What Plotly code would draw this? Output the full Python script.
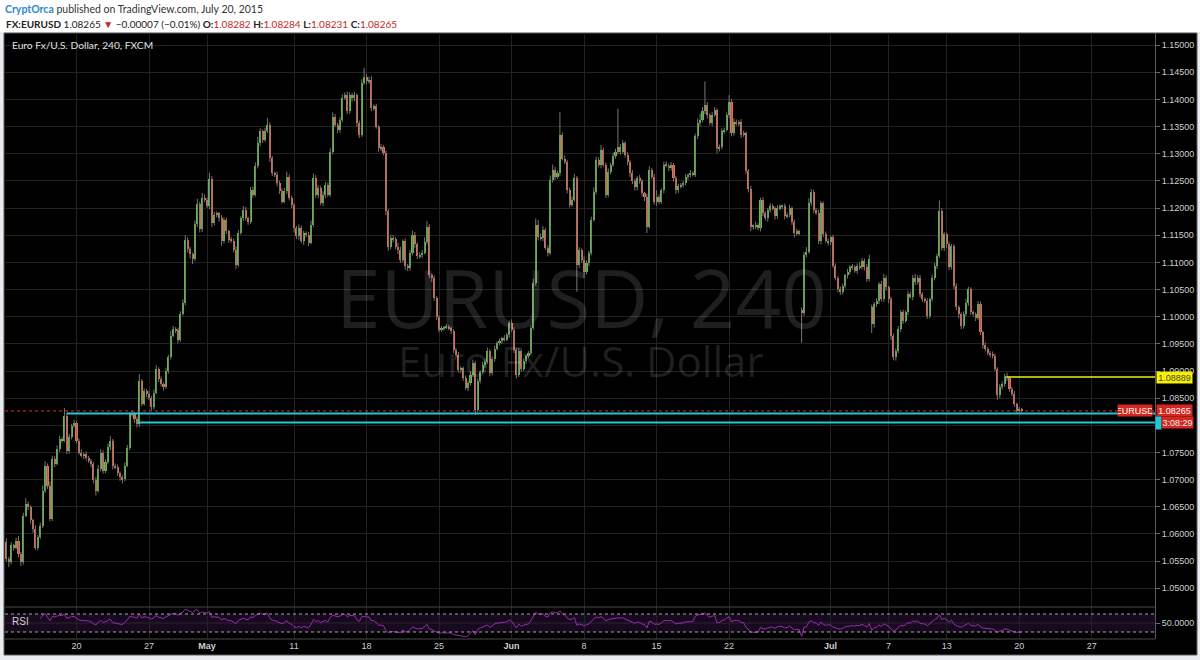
import plotly.graph_objects as go

# ---------------- data (EURUSD 4h candles) ----------------
FIRST_OPEN = 1.0585
closes = [
    1.0554, 1.0548, 1.0579, 1.0575, 1.0588, 1.0563, 1.0548, 1.0634, 1.0655, 1.0649,
    1.0625, 1.0610, 1.0575, 1.0594, 1.0615, 1.0680, 1.0726, 1.0689, 1.0628, 1.0738,
    1.0729, 1.0756, 1.0775, 1.0772, 1.0818, 1.0753, 1.0778, 1.0799, 1.0805, 1.0772,
    1.0750, 1.0744, 1.0747, 1.0740, 1.0735, 1.0729, 1.0700, 1.0680, 1.0720, 1.0750,
    1.0716, 1.0732, 1.0760, 1.0772, 1.0726, 1.0723, 1.0712, 1.0704, 1.0701, 1.0726,
    1.0759, 1.0821, 1.0820, 1.0812, 1.0802, 1.0882, 1.0839, 1.0863, 1.0858, 1.0851,
    1.0833, 1.0860, 1.0903, 1.0885, 1.0876, 1.0870, 1.0900, 1.0925, 1.0965, 1.0977,
    1.0975, 1.0958, 1.1005, 1.1026, 1.1142, 1.1124, 1.1115, 1.1106, 1.1170, 1.1207,
    1.1161, 1.1219, 1.1215, 1.1203, 1.1253, 1.1172, 1.1188, 1.1190, 1.1181, 1.1139,
    1.1178, 1.1157, 1.1142, 1.1140, 1.1123, 1.1096, 1.1154, 1.1181, 1.1197, 1.1181,
    1.1175, 1.1234, 1.1224, 1.1277, 1.1319, 1.1341, 1.1326, 1.1341, 1.1353, 1.1292,
    1.1264, 1.1261, 1.1246, 1.1231, 1.1212, 1.1231, 1.1258, 1.1218, 1.1206, 1.1163,
    1.1148, 1.1163, 1.1139, 1.1154, 1.1151, 1.1136, 1.1169, 1.1255, 1.1224, 1.1237,
    1.1209, 1.1224, 1.1243, 1.1224, 1.1304, 1.1368, 1.1353, 1.1344, 1.1362, 1.1402,
    1.1408, 1.1378, 1.1408, 1.1402, 1.1408, 1.1356, 1.1335, 1.1430, 1.1442, 1.1433,
    1.1436, 1.1384, 1.1387, 1.1350, 1.1310, 1.1312, 1.1301, 1.1194, 1.1129, 1.1145,
    1.1143, 1.1129, 1.1123, 1.1105, 1.1139, 1.1093, 1.1090, 1.1117, 1.1151, 1.1133,
    1.1111, 1.1114, 1.1118, 1.1138, 1.1166, 1.1077, 1.1071, 1.1034, 1.1000, 1.0976,
    1.0979, 1.0980, 1.0981, 1.0979, 1.0973, 1.0939, 1.0930, 1.0902, 1.0905, 1.0887,
    1.0869, 1.0878, 1.0893, 1.0914, 1.0829, 1.0881, 1.0899, 1.0911, 1.0917, 1.0936,
    1.0896, 1.0922, 1.0941, 1.0951, 1.0955, 1.0960, 1.0958, 1.0966, 1.0988, 1.0976,
    1.0939, 1.0893, 1.0936, 1.0904, 1.0918, 1.0927, 1.0933, 1.0979, 1.1062, 1.1169,
    1.1147, 1.1144, 1.1160, 1.1126, 1.1117, 1.1252, 1.1270, 1.1258, 1.1264, 1.1334,
    1.1291, 1.1285, 1.1233, 1.1206, 1.1215, 1.1255, 1.1095, 1.1123, 1.1105, 1.1083,
    1.1099, 1.1117, 1.1178, 1.1230, 1.1288, 1.1279, 1.1307, 1.1279, 1.1224, 1.1267,
    1.1279, 1.1295, 1.1304, 1.1313, 1.1304, 1.1319, 1.1298, 1.1285, 1.1264, 1.1249,
    1.1238, 1.1255, 1.1249, 1.1227, 1.1221, 1.1166, 1.1270, 1.1258, 1.1212, 1.1221,
    1.1212, 1.1233, 1.1280, 1.1278, 1.1273, 1.1280, 1.1255, 1.1233, 1.1240, 1.1243,
    1.1246, 1.1258, 1.1261, 1.1264, 1.1261, 1.1332, 1.1356, 1.1362, 1.1378, 1.1390,
    1.1371, 1.1356, 1.1371, 1.1381, 1.1310, 1.1313, 1.1341, 1.1344, 1.1371, 1.1396,
    1.1338, 1.1359, 1.1356, 1.1359, 1.1335, 1.1338, 1.1268, 1.1236, 1.1166, 1.1166,
    1.1169, 1.1163, 1.1215, 1.1190, 1.1181, 1.1197, 1.1203, 1.1200, 1.1185, 1.1200,
    1.1203, 1.1203, 1.1185, 1.1188, 1.1200, 1.1175, 1.1154, 1.1157, 1.1154, 1.1007,
    1.1114, 1.1120, 1.1209, 1.1230, 1.1197, 1.1191, 1.1139, 1.1209, 1.1152, 1.1140,
    1.1137, 1.1146, 1.1094, 1.1072, 1.1051, 1.1045, 1.1057, 1.1076, 1.1082, 1.1091,
    1.1092, 1.1085, 1.1094, 1.1091, 1.1103, 1.1091, 1.1069, 1.1106, 1.0986, 1.1023,
    1.1029, 1.1060, 1.1032, 1.1072, 1.1054, 1.1032, 1.0965, 1.0925, 1.0937, 1.0977,
    1.1008, 1.0993, 1.1008, 1.1042, 1.1036, 1.1072, 1.1063, 1.1072, 1.1042, 1.1032,
    1.1029, 1.1002, 1.1032, 1.1072, 1.1094, 1.1112, 1.1195, 1.1127, 1.1152, 1.1133,
    1.1091, 1.1130, 1.1057, 1.1017, 1.1005, 1.0983, 1.1005, 1.1026, 1.1051, 1.1008,
    1.1005, 1.0998, 1.1024, 1.0971, 1.0947, 1.0940, 1.0934, 1.0931, 1.0928, 1.0904,
    1.0855, 1.0870, 1.0876, 1.0891, 1.0888, 1.0867, 1.0858, 1.0839, 1.0827, 1.0830,
    1.08265,
]
# weekend gap opens (candle number -> open)
gap_opens = {330: 1.1013, 359: 1.1017}

# upper / lower wick lengths in pips
wick_hi = [
    7, 4, 6, 3, 5, 8, 4, 5, 11, 5, 4, 3, 6, 4, 6, 9, 8, 4, 8, 6,
    5, 7, 6, 4, 14, 5, 6, 4, 5, 3, 4, 6, 3, 5, 4, 3, 4, 5, 7, 6,
    4, 5, 6, 8, 3, 4, 5, 3, 4, 6, 5, 4, 6, 5, 4, 12, 3, 5, 4, 6,
    3, 6, 8, 4, 5, 3, 6, 5, 9, 6, 4, 5, 5, 6, 8, 4, 5, 3, 7, 10,
    5, 9, 6, 4, 12, 6, 5, 4, 3, 6, 5, 4, 3, 5, 4, 6, 5, 4, 7, 5,
    3, 5, 6, 7, 12, 6, 4, 7, 13, 5, 4, 3, 6, 4, 5, 6, 9, 4, 5, 3,
    4, 7, 5, 4, 3, 5, 8, 9, 6, 5, 4, 7, 5, 4, 6, 8, 5, 4, 5, 7,
    5, 6, 5, 4, 6, 3, 5, 7, 16, 5, 6, 7, 4, 5, 3, 6, 4, 5, 4, 6,
    5, 4, 7, 6, 3, 5, 4, 6, 7, 5, 4, 5, 5, 8, 10, 4, 3, 5, 4, 3,
    4, 3, 5, 4, 3, 4, 3, 5, 4, 3, 5, 4, 6, 7, 4, 5, 3, 6, 5, 7,
    4, 5, 6, 4, 5, 3, 6, 4, 5, 7, 4, 3, 6, 4, 5, 3, 4, 5, 8, 12,
    9, 6, 7, 4, 5, 8, 10, 6, 5, 43, 5, 6, 4, 5, 6, 8, 4, 5, 3, 6,
    5, 4, 6, 8, 7, 5, 9, 4, 5, 6, 5, 7, 5, 70, 5, 6, 4, 5, 4, 6,
    5, 4, 6, 4, 3, 5, 7, 4, 5, 12, 4, 3, 5, 6, 4, 5, 3, 4, 5, 3,
    4, 5, 3, 6, 4, 5, 9, 12, 8, 43, 5, 4, 6, 5, 3, 4, 6, 4, 5, 12,
    5, 6, 4, 3, 5, 4, 3, 4, 5, 4, 6, 3, 4, 5, 4, 3, 6, 4, 3, 5,
    4, 3, 5, 4, 6, 3, 4, 5, 3, 4, 5, 8, 9, 5, 4, 3, 6, 4, 3, 5,
    4, 3, 5, 4, 3, 5, 4, 3, 6, 4, 5, 3, 4, 6, 5, 4, 6, 8, 5, 4,
    5, 4, 6, 7, 4, 3, 5, 4, 5, 6, 4, 5, 3, 6, 4, 5, 7, 4, 5, 3,
    4, 5, 3, 6, 5, 4, 19, 5, 4, 3, 5, 4, 3, 5, 4, 3, 5, 7, 4, 3,
    4, 3, 5, 4, 3, 6, 4, 3, 5, 4, 3, 6, 5, 4, 6, 3, 4, 5, 3, 4,
    2,
]
wick_lo = [
    5, 9, 4, 6, 3, 6, 7, 4, 3, 5, 6, 8, 4, 5, 3, 4, 5, 6, 5, 4,
    6, 3, 5, 4, 3, 6, 5, 4, 3, 5, 4, 3, 6, 5, 4, 6, 7, 9, 4, 5,
    5, 4, 3, 6, 7, 4, 5, 6, 8, 4, 3, 5, 4, 7, 6, 5, 4, 3, 6, 5,
    6, 4, 3, 5, 4, 6, 3, 5, 4, 3, 5, 7, 4, 3, 5, 6, 8, 9, 4, 5,
    6, 5, 4, 3, 5, 7, 4, 5, 6, 8, 4, 5, 6, 4, 5, 8, 4, 3, 5, 4,
    6, 4, 5, 3, 4, 5, 6, 4, 3, 7, 5, 4, 6, 5, 4, 3, 5, 4, 6, 8,
    5, 6, 4, 7, 5, 6, 3, 4, 5, 6, 4, 5, 6, 4, 3, 5, 4, 6, 5, 4,
    3, 5, 4, 6, 5, 7, 6, 4, 3, 5, 4, 6, 5, 4, 6, 5, 4, 7, 8, 5,
    6, 5, 8, 6, 5, 7, 6, 5, 4, 6, 5, 4, 6, 3, 5, 6, 7, 5, 6, 5,
    4, 5, 3, 4, 5, 6, 4, 5, 6, 5, 4, 6, 5, 4, 10, 5, 4, 3, 5, 4,
    6, 4, 5, 3, 4, 5, 4, 3, 5, 4, 6, 7, 4, 5, 4, 5, 3, 4, 3, 5,
    6, 4, 5, 3, 6, 4, 5, 6, 4, 5, 3, 4, 6, 5, 4, 3, 49, 5, 6, 12,
    5, 6, 4, 3, 5, 4, 6, 3, 5, 4, 5, 3, 4, 5, 6, 4, 5, 6, 7, 5,
    6, 5, 4, 6, 8, 12, 4, 5, 6, 8, 5, 4, 6, 3, 5, 4, 6, 7, 5, 4,
    5, 4, 6, 5, 3, 4, 5, 6, 4, 5, 6, 4, 5, 3, 9, 6, 5, 4, 3, 5,
    6, 5, 4, 5, 6, 4, 5, 7, 8, 6, 5, 4, 6, 5, 4, 6, 5, 4, 6, 5,
    4, 5, 6, 4, 5, 6, 8, 5, 4, 55, 6, 5, 4, 5, 6, 4, 5, 6, 5, 4,
    6, 5, 4, 5, 6, 5, 4, 5, 6, 4, 5, 4, 6, 5, 4, 6, 5, 4, 16, 6,
    5, 6, 4, 5, 6, 7, 8, 5, 6, 4, 5, 6, 4, 5, 3, 6, 5, 4, 6, 5,
    4, 6, 5, 4, 5, 6, 4, 5, 6, 7, 5, 4, 6, 5, 8, 6, 5, 4, 6, 5,
    5, 6, 4, 5, 6, 4, 5, 6, 5, 4, 8, 5, 4, 5, 6, 5, 4, 5, 6, 4,
    3,
]

# x-axis tick labels (candle number at the start of each labelled day)
tick_pos = [30, 60, 84, 120, 150, 180, 210, 240, 270, 300, 342, 366, 390, 420, 450]
tick_text = ["20", "27", "<b>May</b>", "11", "18", "25", "<b>Jun</b>", "8", "15", "22",
             "<b>Jul</b>", "7", "13", "20", "27"]

# price-axis ticks (the 1.08000 label is hidden under the countdown box in the original)
price_ticks = [1.050, 1.055, 1.060, 1.065, 1.070, 1.075, 1.080, 1.085, 1.090, 1.095, 1.100,
               1.105, 1.110, 1.115, 1.120, 1.125, 1.130, 1.135, 1.140, 1.145, 1.150]
price_hidden = [1.080]

# drawn levels
LAST_PRICE = 1.08265
YELLOW_LEVEL, YELLOW_START = 1.08889, 415
CYAN_LEVELS = [1.0822, 1.0805]
CYAN_STARTS = [26, 55.5]
RSI_PERIOD = 14

# ---------------- derived ----------------
n = len(closes)
idx = list(range(1, n + 1))
opens = [FIRST_OPEN] + closes[:-1]
for k, v in gap_opens.items():
    opens[k - 1] = v
highs = [max(o, c) + h * 1e-4 for o, c, h in zip(opens, closes, wick_hi[:n])]
lows = [min(o, c) - l * 1e-4 for o, c, l in zip(opens, closes, wick_lo[:n])]


def rsi(vals, p):
    out = [None] * len(vals)
    gains = [max(vals[i] - vals[i - 1], 0) for i in range(1, len(vals))]
    losses = [max(vals[i - 1] - vals[i], 0) for i in range(1, len(vals))]
    ag = sum(gains[:p]) / p
    al = sum(losses[:p]) / p
    out[p] = 100 - 100 / (1 + ag / al) if al > 0 else 100
    for i in range(p, len(gains)):
        ag = (ag * (p - 1) + gains[i]) / p
        al = (al * (p - 1) + losses[i]) / p
        out[i + 1] = 100 - 100 / (1 + ag / al) if al > 0 else 100
    return out


rsi_vals = rsi(closes, RSI_PERIOD)

GREEN = "#58c83a"
RED = "#f36a48"
WICK = "#767676"
MINH = 0.00016

fig = go.Figure()

# wicks
wx, wy = [], []
for i, h, l in zip(idx, highs, lows):
    wx += [i, i, None]
    wy += [l, h, None]
fig.add_trace(go.Scatter(x=wx, y=wy, mode="lines", line=dict(color=WICK, width=1),
                         hoverinfo="skip", showlegend=False, xaxis="x", yaxis="y"))

for up, col in [(True, GREEN), (False, RED)]:
    bx, bb, bh = [], [], []
    for i, o, c in zip(idx, opens, closes):
        if (c >= o) == up:
            bx.append(i)
            bb.append(min(o, c))
            bh.append(max(abs(c - o), MINH))
    fig.add_trace(go.Bar(x=bx, y=bh, base=bb, width=0.85, marker=dict(color=col, line=dict(width=0)),
                         showlegend=False, xaxis="x", yaxis="y"))

fig.add_trace(go.Scatter(x=idx, y=rsi_vals, mode="lines", line=dict(color="#9a2bb3", width=1),
                         showlegend=False, xaxis="x2", yaxis="y2"))

# ---------------- layout ----------------
W, H = 1200, 660
L, R, T, B = 5, 1155, 33, 639
PX_PER = 2.417
XR = [(L - 4) / PX_PER, (R - 4) / PX_PER]
SPLIT = 607
D = (B - SPLIT) / (B - T)
YR = [1.10 - (SPLIT - 316.7) / 5432, 1.10 + (316.7 - T) / 5432]


def px(x):
    return (x - L) / (R - L)


def py(y):
    return (B - y) / (B - T)


GRID = "#222222"
AXF = dict(family="Liberation Sans, Arial", size=9, color="#cfcfcf")

shapes = [
    dict(type="rect", xref="paper", yref="paper", x0=px(0), x1=px(1200), y0=py(32), y1=py(0),
         fillcolor="white", line=dict(width=0), layer="below"),
    dict(type="rect", xref="paper", yref="paper", x0=px(4), x1=px(1197), y0=py(655), y1=py(33),
         fillcolor="black", line=dict(color="#5e5e5e", width=1), layer="below"),
    dict(type="rect", xref="paper", yref="y2", x0=0, x1=1, y0=30, y1=70,
         fillcolor="#170a1e", line=dict(width=0), layer="below"),
    dict(type="line", xref="paper", yref="y2", x0=0, x1=1, y0=50, y1=50,
         line=dict(color="#2e2233", width=1), layer="below"),
    dict(type="line", xref="paper", yref="y2", x0=0, x1=1, y0=70, y1=70,
         line=dict(color="#a8a8a8", width=1, dash="dot")),
    dict(type="line", xref="paper", yref="y2", x0=0, x1=1, y0=30, y1=30,
         line=dict(color="#a8a8a8", width=1, dash="dot")),
    dict(type="line", xref="paper", yref="paper", x0=0, x1=1, y0=py(SPLIT), y1=py(SPLIT),
         line=dict(color="#4a4a4a", width=1)),
    dict(type="line", xref="paper", yref="paper", x0=0, x1=1, y0=0, y1=0,
         line=dict(color="#4a4a4a", width=1)),
    dict(type="line", xref="x", yref="y", x0=XR[0], x1=XR[1], y0=LAST_PRICE, y1=LAST_PRICE,
         line=dict(color="#e0302a", width=1, dash="dot")),
    dict(type="line", xref="x", yref="y", x0=YELLOW_START, x1=XR[1], y0=YELLOW_LEVEL, y1=YELLOW_LEVEL,
         line=dict(color="#f2ec10", width=1.5)),
]
for lv, st in zip(CYAN_LEVELS, CYAN_STARTS):
    shapes.append(dict(type="line", xref="x", yref="y", x0=st, x1=XR[1], y0=lv, y1=lv,
                       line=dict(color="#1ec8d8", width=2)))

HF = "Lato, Open Sans, sans-serif"
RC = "#c62828"
annotations = [
    dict(xref="paper", yref="paper", x=px(3), y=py(9), xanchor="left", yanchor="middle",
         text="<span style='color:#2a8ad6'><b>CryptOrca</b></span> published on TradingView.com, July 20, 2015",
         showarrow=False, font=dict(family=HF, size=10.5, color="#333333")),
    dict(xref="paper", yref="paper", x=px(4), y=py(24), xanchor="left", yanchor="middle",
         text=("<b>FX:EURUSD</b> 1.08265 <span style='color:%s'>▼</span> −0.00007 (−0.01%%) "
               "<b>O:</b><span style='color:%s'>1.08282</span> <b>H:</b><span style='color:%s'>1.08284</span> "
               "<b>L:</b><span style='color:%s'>1.08231</span> <b>C:</b><span style='color:%s'>1.08265</span>")
         % (RC, RC, RC, RC, RC),
         showarrow=False, font=dict(family=HF, size=10, color="#222222")),
    dict(xref="paper", yref="paper", x=px(10), y=py(45), xanchor="left", yanchor="middle",
         text="Euro Fx/U.S. Dollar, 240, FXCM", showarrow=False,
         font=dict(family=HF, size=10.2, color="#e0e0e0")),
    dict(xref="paper", yref="paper", x=px(581), y=py(296), xanchor="center", yanchor="middle",
         text="EURUSD, 240", showarrow=False,
         font=dict(family="Open Sans, sans-serif", size=80, color="rgba(255,255,255,0.12)")),
    dict(xref="paper", yref="paper", x=px(581), y=py(360), xanchor="center", yanchor="middle",
         text="Euro Fx/U.S. Dollar", showarrow=False,
         font=dict(family="Open Sans, sans-serif", size=42, color="rgba(255,255,255,0.12)")),
    dict(xref="paper", yref="paper", x=px(10), y=py(621), xanchor="left", yanchor="middle",
         text="RSI", showarrow=False, font=dict(family="Liberation Sans, Arial", size=10, color="#d0d0d0")),
    # right-axis labels
    dict(xref="paper", yref="y", x=px(1156), y=YELLOW_LEVEL, xanchor="left", yanchor="middle",
         text="1.08889", showarrow=False, bgcolor="#f7f000", width=35, height=11, borderpad=0,
         font=dict(family="Liberation Sans, Arial", size=9, color="#444444")),
    dict(xref="paper", yref="y", x=px(1153), y=LAST_PRICE, xanchor="right", yanchor="middle",
         text="EURUSD", showarrow=False, bgcolor="#d3271f", width=34, height=11, borderpad=0,
         font=dict(family="Liberation Sans, Arial", size=9, color="white")),
    dict(xref="paper", yref="y", x=px(1156), y=LAST_PRICE, xanchor="left", yanchor="middle",
         text="1.08265", showarrow=False, bgcolor="#d3271f", width=35, height=11, borderpad=0,
         font=dict(family="Liberation Sans, Arial", size=9, color="white")),
    dict(xref="paper", yref="y", x=px(1155), y=CYAN_LEVELS[1], xanchor="left", yanchor="middle",
         text=" ", showarrow=False, bgcolor="#1ec8d8", width=5, height=12, borderpad=0,
         font=dict(size=8)),
    dict(xref="paper", yref="y", x=px(1161), y=CYAN_LEVELS[1], xanchor="left", yanchor="middle",
         text="3:08:29", showarrow=False, bgcolor="#d3271f", width=31, height=11, borderpad=0,
         font=dict(family="Liberation Sans, Arial", size=9, color="#f0f0f0")),
]

price_text = ["" if v in price_hidden else "%.5f" % v for v in price_ticks]

fig.update_layout(
    width=W, height=H,
    margin=dict(l=L, r=W - R, t=T, b=H - B, pad=0),
    paper_bgcolor="#e8ecf0", plot_bgcolor="rgba(0,0,0,0)",
    barmode="overlay", bargap=0, showlegend=False,
    xaxis=dict(domain=[0, 1], range=XR, anchor="y", showticklabels=False, tickvals=tick_pos,
               showgrid=True, gridcolor=GRID, gridwidth=1, zeroline=False, showline=False, ticks=""),
    xaxis2=dict(domain=[0, 1], range=XR, anchor="y2", matches="x", tickvals=tick_pos, ticktext=tick_text,
                showgrid=True, gridcolor=GRID, gridwidth=1, zeroline=False, showline=False, ticks="",
                tickfont=AXF),
    yaxis=dict(domain=[D, 1], range=YR, side="right", tickvals=price_ticks, ticktext=price_text,
               ticks="outside", ticklen=4, tickcolor="#6a6a6a", showline=True, linecolor="#5a5a5a",
               showgrid=True, gridcolor=GRID, zeroline=False, tickfont=AXF),
    yaxis2=dict(domain=[0, D], range=[14.4, 85.6], side="right", tickvals=[50], ticktext=["50.0000"],
                ticks="outside", ticklen=4, tickcolor="#6a6a6a", showline=True, linecolor="#5a5a5a",
                showgrid=False, zeroline=False, tickfont=AXF),
    shapes=shapes, annotations=annotations,
)

fig.write_html("out.html", config={"displayModeBar": False},
               post_script="document.body.style.margin='0';document.body.style.overflow='hidden';")
